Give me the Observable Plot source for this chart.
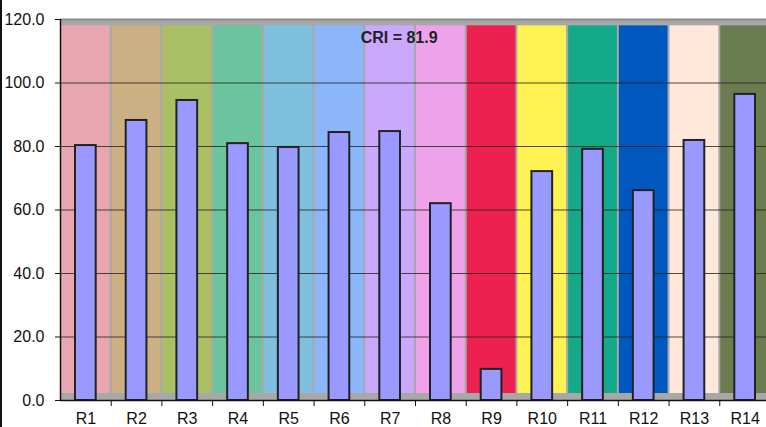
<!DOCTYPE html>
<html>
<head>
<meta charset="utf-8">
<script src="https://cdn.jsdelivr.net/npm/d3@7"></script>
<script src="https://cdn.jsdelivr.net/npm/@observablehq/plot@0.6"></script>
<style>
  html, body { margin: 0; padding: 0; background: #fff; }
  #wrap { position: relative; width: 766px; height: 427px; overflow: hidden; }
  #edge { position: absolute; left: 0; top: 0; width: 2px; height: 427px; background: #111; }
  svg { display: block; }
</style>
</head>
<body>
<div id="wrap"><div id="edge"></div></div>
<script>
const categories = ["R1","R2","R3","R4","R5","R6","R7","R8","R9","R10","R11","R12","R13","R14"];
const values = [80.3, 88.2, 94.5, 80.9, 79.7, 84.4, 84.7, 62.0, 9.8, 72.1, 79.1, 66.1, 81.9, 96.4];
const bandColors = ["#e8a6b0","#cbb084","#abc064","#6cc49e","#7ec0dd","#8cb6fc","#caa8fc","#eea2ea","#ec2150","#fdf252","#12aa88","#0058bf","#ffe7da","#6b7c50"];
const yTicks = [0, 20, 40, 60, 80, 100, 120];
const gridValues = [20, 40, 60, 80, 100];
const bandLow = 2.2;
const bandHigh = 118;
const criLabel = "CRI = 81.9";

const data = categories.map((c, i) => ({cat: c, value: values[i], color: bandColors[i]}));

const chart = Plot.plot({
  width: 766,
  height: 427,
  marginLeft: 60,
  marginTop: 19,
  marginBottom: 27,
  marginRight: 0,
  style: {fontFamily: "'Liberation Sans', Arial, sans-serif", fontSize: "16px", color: "#111", background: "transparent"},
  x: {type: "band", domain: categories, range: [60, 770], padding: 0, round: false},
  y: {domain: [0, 120], range: [400, 19]},
  color: {type: "identity"},
  marks: [
    Plot.frame({fill: "#a8a8a8", stroke: null}),
    Plot.barY(data, {x: "cat", y1: bandLow, y2: bandHigh, fill: "color", insetLeft: 1, insetRight: 1}),
    Plot.ruleY(gridValues, {stroke: "#222", strokeWidth: 1, strokeOpacity: 0.8}),
    Plot.ruleY([120], {stroke: "#8c8c8c", strokeWidth: 2}),
    Plot.barY(data, {x: "cat", y: "value", fill: "#9999ff", stroke: "#222", strokeWidth: 2, insetLeft: 15, insetRight: 15}),
    Plot.text([criLabel], {x: () => "R7", y: 114.3, dx: 9, text: d => d, fontWeight: "bold", fontSize: 16, fill: "#222"}),
    Plot.ruleY([0], {stroke: "#111", strokeWidth: 1.5}),
    Plot.ruleX([0], {x: () => "R1", dx: -25.35, y1: 0, y2: 120, stroke: "#111", strokeWidth: 1.5}),
    Plot.axisY({ticks: yTicks, tickFormat: d3.format(".1f"), tickSize: 5, tickPadding: 11, fontSize: 16, label: null, stroke: "#111"}),
    Plot.axisX({tickSize: 0, tickPadding: 12, fontSize: 16, label: null}),
    Plot.axisX({tickSize: 6, tickFormat: () => "", dx: 25.35, label: null, stroke: "#111"})
  ]
});
document.getElementById("wrap").appendChild(chart);
</script>
</body>
</html>
